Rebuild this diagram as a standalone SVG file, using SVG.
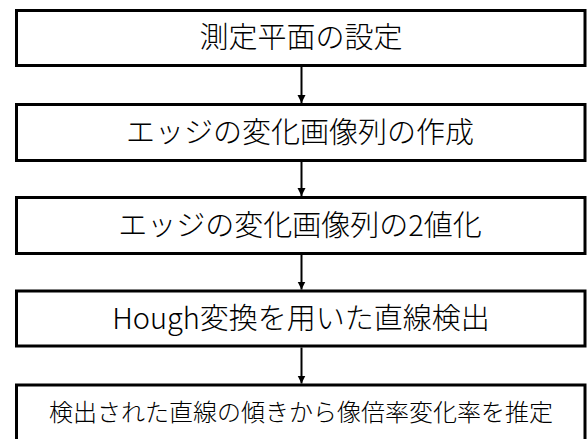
<svg xmlns="http://www.w3.org/2000/svg" width="587" height="439" viewBox="0 0 587 439">
<style>
.box{fill:#fff;stroke:#000;stroke-width:3}
.t{font-family:"Noto Sans CJK JP","Noto Sans",sans-serif;font-size:29px;font-weight:300;fill:#000;text-anchor:middle;dominant-baseline:central}
.s{font-size:24px}
.c{stroke:#000;stroke-width:2;fill:none}
</style>
<defs>
<marker id="ah" markerUnits="userSpaceOnUse" markerWidth="8" markerHeight="9" refX="8" refY="4" orient="auto" viewBox="0 0 8 8">
<path d="M0,0 L8,4 L0,8 Z" fill="#000"/>
</marker>
</defs>
<rect width="587" height="439" fill="#fff"/>
<g id="connectors">
<line class="c" x1="301.5" y1="67" x2="301.5" y2="103" marker-end="url(#ah)"/>
<line class="c" x1="301.5" y1="162" x2="301.5" y2="196" marker-end="url(#ah)"/>
<line class="c" x1="301.5" y1="255" x2="301.5" y2="289.5" marker-end="url(#ah)"/>
<line class="c" x1="301.5" y1="347.5" x2="301.5" y2="383.5" marker-end="url(#ah)"/>
</g>
<g id="n1"><rect class="box" x="16.5" y="10.5" width="568.5" height="55"/><text class="t" x="301" y="35">測定平面の設定</text></g>
<g id="n2"><rect class="box" x="16.5" y="104.5" width="568.5" height="56"/><text class="t" x="300" y="129.5">エッジの変化画像列の作成</text></g>
<g id="n3"><rect class="box" x="16.5" y="197.5" width="568.5" height="56"/><text class="t" x="300" y="222.5">エッジの変化画像列の2値化</text></g>
<g id="n4"><rect class="box" x="16.5" y="291" width="568.5" height="55"/><text class="t" x="301" y="316">Hough変換を用いた直線検出</text></g>
<g id="n5"><rect class="box" x="16.5" y="385" width="568.5" height="58"/><text class="t s" x="301" y="410">検出された直線の傾きから像倍率変化率を推定</text></g>
</svg>
